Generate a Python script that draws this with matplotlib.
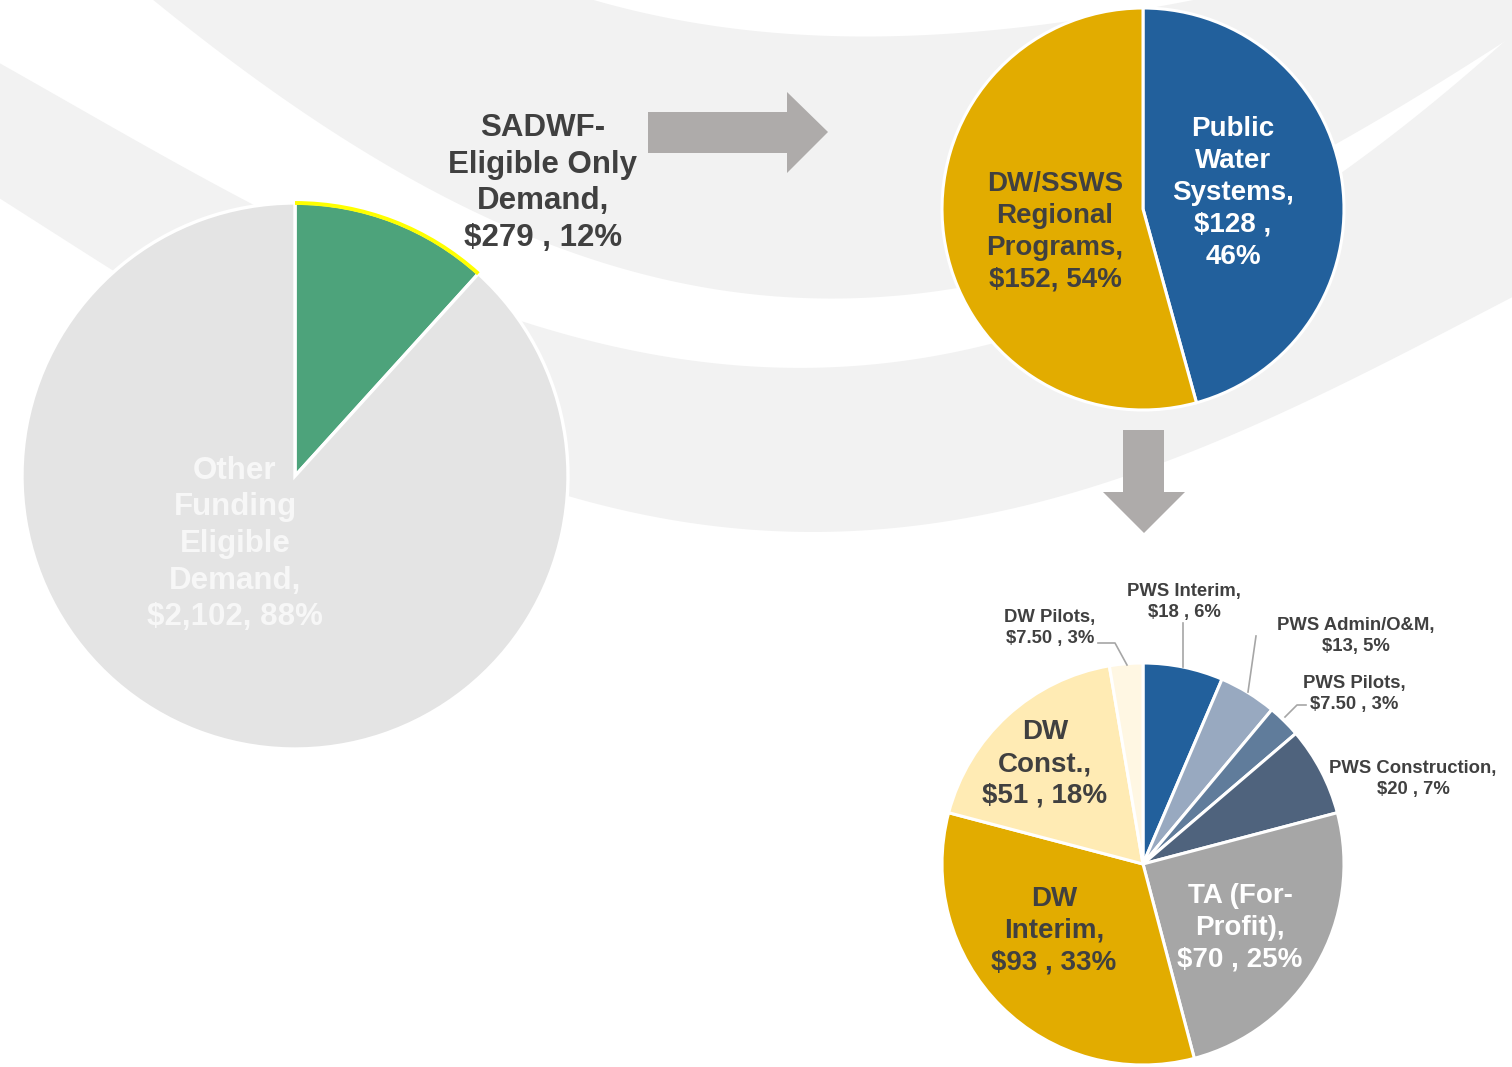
import numpy as np
import matplotlib
matplotlib.use("Agg")
import matplotlib.pyplot as plt
from matplotlib.patches import Polygon, Arc

plt.rcParams['font.family'] = ['Liberation Sans', 'DejaVu Sans']
plt.rcParams['font.weight'] = 'bold'

W, H = 1512, 1067

# ---- data ----
total_labels = ["SADWF-\nEligible Only\nDemand,\n$279 , 12%",
                "Other\nFunding\nEligible\nDemand,\n$2,102, 88%"]
total_values = [279, 2102]
total_colors = ["#4DA37B", "#E4E4E4"]

split_labels = ["Public\nWater\nSystems,\n$128 ,\n46%",
                "DW/SSWS\nRegional\nPrograms,\n$152, 54%"]
split_values = [128, 152]
split_colors = ["#22609C", "#E2AC00"]

detail_labels = ["PWS Interim,\n$18 , 6%", "PWS Admin/O&M,\n$13, 5%",
                 "PWS Pilots,\n$7.50 , 3%", "PWS Construction,\n$20 , 7%",
                 "TA (For-\nProfit),\n$70 , 25%", "DW\nInterim,\n$93 , 33%",
                 "DW\nConst.,\n$51 , 18%", "DW Pilots,\n$7.50 , 3%"]
detail_values = [18, 13, 7.5, 20, 70, 93, 51, 7.5]
detail_colors = ["#22609C", "#98A9C0", "#607C9B", "#4F637D",
                 "#A6A6A6", "#E2AC00", "#FFEBB4", "#FFF7E3"]

DARK = "#404040"
BAND = "#F2F2F2"
ARROW = "#AEABAA"


def curve(pts, x0, x1, deg=4, n=300):
    # smooth fitted edge through guide points, pixel coords (y down)
    pts = np.array(pts, float)
    coef = np.polyfit(pts[:, 0], pts[:, 1], deg)
    xs = np.linspace(x0, x1, n)
    return np.column_stack([xs, np.polyval(coef, xs)])


def to_data(arr):
    arr = np.array(arr, float)
    return np.column_stack([arr[:, 0], H - arr[:, 1]])


fig = plt.figure(figsize=(W / 100, H / 100), dpi=100)
ax = fig.add_axes([0, 0, 1, 1])

# ---- background swooshes ----
g1_low = curve([(153, 0), (250, 72), (330, 135), (400, 172), (497, 220), (660, 280),
                (793, 295), (1010, 280), (1337, 142), (1500, 45)], 140, W)
g1 = np.vstack([g1_low, [(W, -5), (140, -5)]])
ax.add_patch(Polygon(to_data(g1), closed=True, fc=BAND, ec="none", zorder=0))

w0 = curve([(590, 0), (693, 20), (860, 39), (1010, 28), (1140, 8), (1200, 0)],
           560, 1230, deg=3)
w0 = np.vstack([w0, [(1230, -5), (560, -5)]])
ax.add_patch(Polygon(to_data(w0), closed=True, fc="white", ec="none", zorder=0.5))

g2_top = curve([(0, 64), (240, 195), (530, 330), (660, 353), (793, 365),
                (1010, 340), (1343, 172), (1500, 45)], 0, W)
g2_bot = curve([(0, 200), (103, 262), (570, 500), (793, 528), (1010, 510),
                (1300, 405), (1512, 297)], 0, W)
g2 = np.vstack([g2_top, g2_bot[::-1]])
ax.add_patch(Polygon(to_data(g2), closed=True, fc=BAND, ec="none", zorder=0))

# ---- pies ----
c1, r1 = (295, 476), 273
c2, r2 = (1143, 209), 201
c3, r3 = (1143, 864), 201

w_total, _ = ax.pie(total_values, colors=total_colors, startangle=90,
                    counterclock=False, center=(c1[0], H - c1[1]), radius=r1,
                    wedgeprops=dict(edgecolor="white", linewidth=2.4))
g = w_total[0]
ax.add_patch(Arc((c1[0], H - c1[1]), 2 * r1, 2 * r1, theta1=g.theta1, theta2=g.theta2,
                 color="#FFFF00", lw=2.8, zorder=3))

w_split, _ = ax.pie(split_values, colors=split_colors, startangle=90,
                    counterclock=False, center=(c2[0], H - c2[1]), radius=r2,
                    wedgeprops=dict(edgecolor="white", linewidth=2.2))
w_detail, _ = ax.pie(detail_values, colors=detail_colors, startangle=90,
                     counterclock=False, center=(c3[0], H - c3[1]), radius=r3,
                     wedgeprops=dict(edgecolor="white", linewidth=2.2))
for w in list(w_total) + list(w_split) + list(w_detail):
    w.set_zorder(2)

# ---- arrows ----
right_arrow = [(648, 112), (787, 112), (787, 92), (828, 132), (787, 173),
               (787, 153), (648, 153)]
down_arrow = [(1123, 430), (1164, 430), (1164, 492), (1185, 492), (1144, 533),
              (1103, 492), (1123, 492)]
for shape in (right_arrow, down_arrow):
    ax.add_patch(Polygon(to_data(shape), closed=True, fc=ARROW, ec="none", zorder=1))

# ---- labels ----
big = 22.5
mid = 20
small = 13.3


def label(txt, x, y, size, color, ls):
    ax.text(x, H - y, txt, ha="center", va="center", fontsize=size, color=color,
            fontweight="bold", linespacing=ls, zorder=5)


label(total_labels[0], 543, 183, big, DARK, 1.285)
label(total_labels[1], 235, 544, big, "#F7F7F7", 1.285)
label(split_labels[0], 1233, 193, mid, "white", 1.29)
label(split_labels[1], 1055, 232, mid, DARK, 1.29)
label(detail_labels[4], 1240, 928, mid, "white", 1.29)
label(detail_labels[5], 1054, 931, mid, DARK, 1.29)
label(detail_labels[6], 1045, 764, mid, DARK, 1.29)
label(detail_labels[0], 1184, 602, small, DARK, 1.32)
label(detail_labels[1], 1356, 636, small, DARK, 1.32)
label(detail_labels[2], 1354, 694, small, DARK, 1.32)
label(detail_labels[3], 1413, 779, small, DARK, 1.32)
label(detail_labels[7], 1050, 628, small, DARK, 1.32)

# leader lines
leaders = [[(1183, 667), (1183, 623)],
           [(1248, 692), (1256, 636)],
           [(1285, 717), (1297, 705), (1306, 705)],
           [(1127, 665), (1115, 643), (1098, 643)]]
for pts in leaders:
    d = to_data(pts)
    ax.plot(d[:, 0], d[:, 1], color="#A6A6A6", lw=1.2, zorder=4)

ax.set_xlim(0, W)
ax.set_ylim(0, H)
ax.set_aspect("auto")
ax.axis("off")

fig.savefig("out.png", dpi=100, facecolor="white")
